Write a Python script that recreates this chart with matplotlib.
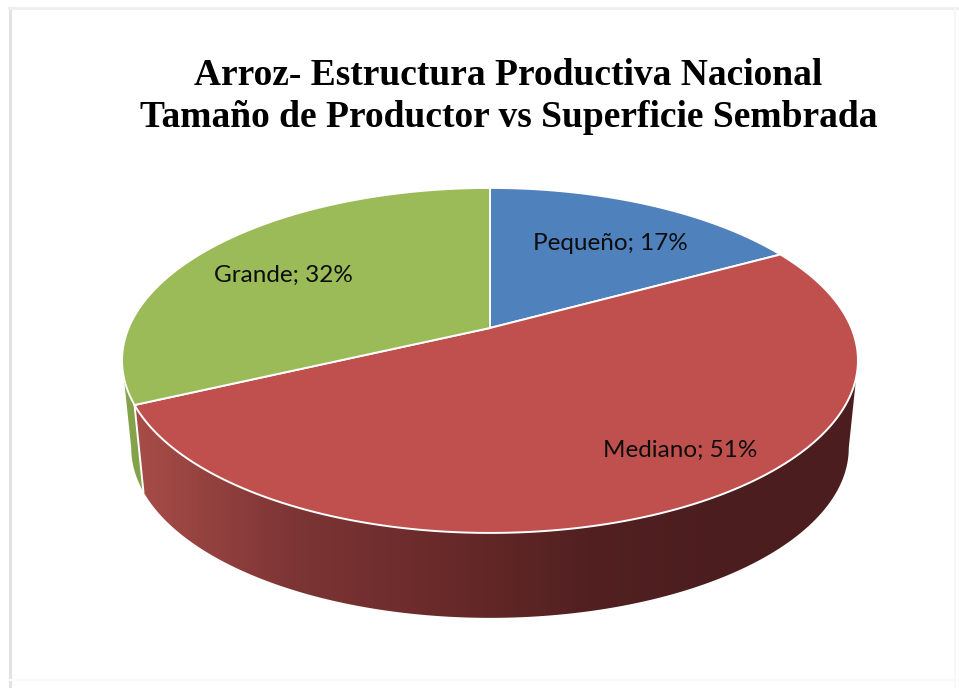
import numpy as np
import matplotlib
matplotlib.use("Agg")
import matplotlib.pyplot as plt
from matplotlib.colors import LinearSegmentedColormap
from matplotlib.patches import Polygon

categories = ["Pequeño", "Mediano", "Grande"]
shares = [17, 51, 32]
title_lines = ["Arroz- Estructura Productiva Nacional",
               "Tamaño de Productor vs Superficie Sembrada"]

top_colors = ["#4F81BD", "#C0504D", "#9BBB59"]
side_green = "#83A24A"
red_side = LinearSegmentedColormap.from_list(
    "red_side", ["#A64C47", "#7D3535", "#6A2A2A", "#522021", "#4B1D1F"])

# perspective of the pie disc, in pixels of the picture
cx, cy = 490, 328
k = 0.188
A = 166.4
B = 361.4
base_sx, base_sy, base_y0 = 0.975, 0.985, 416
# angle where the rim turns away from the viewer
tangent = np.arccos(-k)


def project(t, scale_x=1.0, scale_y=1.0, y0=cy):
    # t is the angle clockwise from 12 o'clock
    x = np.sin(t)
    y = np.cos(t)
    w = 1 + k * y
    return cx + scale_x * B * x / w, y0 - scale_y * A * y / w


def side_polygon(t):
    tx, ty = project(t)
    bx, by = project(t, base_sx, base_sy, base_y0)
    return np.c_[np.r_[tx, bx[::-1]], np.r_[ty, by[::-1]]]


fig = plt.figure(figsize=(9.59, 6.88), dpi=100)
ax = fig.add_axes([0, 0, 1, 1])

# faint frame of the scanned page
ax.plot([9.5, 9.5], [8, 688], color="#E2E2E2", lw=2.2)
ax.plot([9, 959], [8, 8], color="#EEEEEE", lw=2)
ax.plot([955, 955], [8, 688], color="#F7F7F7", lw=1.5)
ax.plot([9, 959], [680, 680], color="#FAFAFA", lw=1.5)

edges = np.cumsum([0] + shares) / sum(shares) * 2 * np.pi

# side of the pie: red with a gradient from left to right, green sliver
red_poly = Polygon(side_polygon(np.linspace(tangent, edges[2], 300)),
                   closed=True, transform=ax.transData, fc="none", ec="none")
ax.add_patch(red_poly)
shade = np.clip((np.arange(959) - 140) / 600, 0, 1).reshape(1, -1)
img = ax.imshow(shade, cmap=red_side, extent=(0, 959, 688, 0), aspect="auto",
                vmin=0, vmax=1, zorder=2)
img.set_clip_path(red_poly)

green_poly = side_polygon(np.linspace(edges[2], 2 * np.pi - tangent, 40))
ax.fill(green_poly[:, 0], green_poly[:, 1], facecolor=side_green, zorder=2)

# white line between red and green on the side
sx0, sy0 = project(edges[2])
sx1, sy1 = project(edges[2], base_sx, base_sy, base_y0)
ax.plot([sx0, sx1], [sy0, sy1], color="white", lw=1.4, zorder=3)

# top of the pie
for i in range(len(shares)):
    t = np.linspace(edges[i], edges[i + 1], 200)
    x, y = project(t)
    ax.fill(np.r_[cx, x], np.r_[cy, y], facecolor=top_colors[i],
            edgecolor="white", lw=1.4, joinstyle="round", zorder=4)

label_pos = [(610, 243), (680, 450), (283, 275)]
for name, share, pos in zip(categories, shares, label_pos):
    ax.text(pos[0], pos[1], f"{name}; {share}%", family="Lato", fontsize=17.5,
            color="#0D0D0D", ha="center", va="center", zorder=5)

ax.text(508.5, 85, title_lines[0], family="Liberation Serif", weight="bold",
        fontsize=27, color="black", ha="center", va="baseline")
ax.text(508.5, 127, title_lines[1], family="Liberation Serif", weight="bold",
        fontsize=27, color="black", ha="center", va="baseline")

ax.set_xlim(0, 959)
ax.set_ylim(688, 0)
ax.axis("off")

fig.savefig("out.png", dpi=100, facecolor="white")
